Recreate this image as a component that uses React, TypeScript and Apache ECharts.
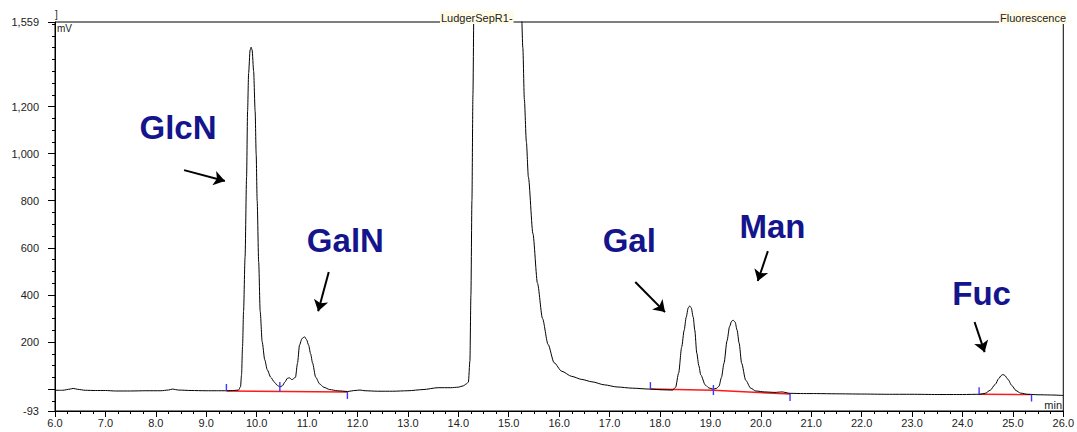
import React, { useEffect, useRef } from "react";
import * as echarts from "echarts";

// ---- Data (time in min, signal in mV) ----
const baselineStart: [number, number][] = [
  [6.0, -5], [6.15, -5], [6.3, 0], [6.36, 3], [6.45, -1], [6.6, -5], [6.8, -6], [7.0, -6],
  [7.2, -8], [7.5, -8], [7.8, -7], [8.1, -7], [8.25, -4], [8.33, 0], [8.45, -4], [8.7, -6],
  [9.0, -7], [9.2, -7], [9.4, -7], [9.55, -6], [9.64, -4],
];
const peakGlcNGalN: [number, number][] = [
  [9.68, 10], [9.7, 60], [9.72, 180], [9.74, 330], [9.77, 560], [9.8, 900], [9.82, 1180],
  [9.84, 1340], [9.87, 1440], [9.89, 1452], [9.91, 1440], [9.94, 1350], [9.97, 1180],
  [9.99, 1000], [10.01, 800], [10.04, 540], [10.07, 330], [10.11, 200], [10.16, 125],
  [10.21, 82], [10.28, 50], [10.35, 30], [10.41, 16], [10.46, 9], [10.51, 14], [10.56, 30],
  [10.61, 46], [10.65, 48], [10.7, 40], [10.77, 50], [10.81, 110], [10.85, 187], [10.9, 215],
  [10.95, 222], [10.99, 210], [11.03, 187], [11.07, 150], [11.11, 110], [11.17, 51], [11.25, 22],
  [11.33, 8], [11.45, -2], [11.6, -7], [11.8, -10],
];
const baselineMid: [number, number][] = [
  [11.95, -6], [12.05, -4], [12.15, -7], [12.4, -9], [12.7, -9], [13.0, -7], [13.3, -2],
  [13.6, 6], [13.85, 6], [14.0, 8], [14.1, 14], [14.16, 22],
];
const peakSolvent: [number, number][] = [
  [14.2, 30], [14.23, 120], [14.25, 400], [14.27, 800], [14.29, 1250], [14.31, 1650],
  [14.36, 1900], [14.7, 2100], [15.15, 1950], [15.24, 1700], [15.28, 1450], [15.31, 1230],
  [15.35, 1050], [15.39, 900], [15.48, 660], [15.57, 450], [15.67, 300], [15.78, 190],
  [15.9, 112], [16.05, 76], [16.25, 54], [16.45, 41], [16.65, 31], [16.9, 18], [17.15, 9],
  [17.45, 4], [17.8, 0], [18.05, -3], [18.25, -4],
];
const peakGalMan: [number, number][] = [
  [18.31, 8], [18.37, 68], [18.43, 178], [18.48, 250], [18.52, 305], [18.56, 345], [18.59, 353],
  [18.62, 345], [18.66, 305], [18.69, 251], [18.73, 153], [18.77, 100], [18.81, 60], [18.9, 17],
  [18.97, 5], [19.05, 0], [19.12, 3], [19.17, 12], [19.22, 50], [19.27, 110], [19.33, 205],
  [19.38, 265], [19.42, 288], [19.45, 293], [19.49, 285], [19.53, 250], [19.57, 195],
  [19.62, 110], [19.7, 38], [19.8, 4], [19.9, -8], [20.08, -12], [20.28, -14], [20.42, -12],
  [20.58, -18], [20.85, -19],
];
const baselineLate: [number, number][] = [
  [21.1, -19], [21.5, -20], [22.0, -21], [22.5, -22], [23.0, -22], [23.5, -23], [24.0, -23],
  [24.35, -22],
];
const peakFuc: [number, number][] = [
  [24.45, -18], [24.55, -5], [24.65, 20], [24.72, 45], [24.77, 58], [24.8, 62], [24.84, 58],
  [24.9, 42], [24.98, 15], [25.06, -6], [25.15, -17], [25.3, -22], [25.5, -24], [25.75, -25],
  [26.0, -27],
];

// integration baselines (red) and delimiter marks (blue)
const baseGlcN: [number, number][] = [[9.4, -8], [11.8, -12]];
const baseGalMan: [number, number][] = [[17.81, 0], [19.06, -5], [20.58, -21]];
const baseFuc: [number, number][] = [[24.33, -22], [25.37, -23]];
const delimTimes = [9.4, 10.46, 11.8, 17.81, 19.06, 20.58, 24.33, 25.37];
const delimValues = [-8, 9, -12, 0, -4, -21, -22, -23];
const delimKinds = ["up", "mid", "down", "up", "mid", "down", "up", "down"];

// peak annotations
const peakNames = ["GlcN", "GalN", "Gal", "Man", "Fuc"];
const labelPos: [number, number][] = [[8.44, 1109], [11.76, 629], [17.39, 629], [20.23, 692], [24.38, 408]];
const arrowFrom: [number, number][] = [[8.56, 930], [11.43, 497], [17.51, 455], [20.14, 586], [24.24, 285]];
const arrowTo: [number, number][] = [[9.37, 884], [11.22, 331], [18.1, 327], [19.94, 459], [24.44, 157]];

// axes
const yMin = -93;
const yMax = 1559;
const yLabelValues = [-93, 200, 400, 600, 800, 1000, 1200, 1559];
const yMajorTicks = [-93, 0, 200, 400, 600, 800, 1000, 1200, 1559];
const yMinorTicks = [-50, 50, 100, 150, 250, 300, 350, 450, 500, 550, 650, 700, 750, 850, 900, 950,
  1050, 1100, 1150, 1250, 1300, 1350, 1400, 1450, 1500, 1550];

const FONT = "'Liberation Sans', Arial, sans-serif";

export default function App() {
  const ref = useRef<HTMLDivElement>(null);
  useEffect(() => {
    if (!ref.current) return;
    const chart = echarts.init(ref.current, undefined, { renderer: "svg" });
    const trace = [
      ...baselineStart, ...peakGlcNGalN, ...baselineMid, ...peakSolvent,
      ...peakGalMan, ...baselineLate, ...peakFuc,
    ];
    const offsets: Record<string, number> = { up: -3.5, mid: 0, down: 3.5 };
    const fmt = (v: number) => v.toLocaleString("en-US");
    const option: any = {
      animation: false,
      textStyle: { fontFamily: FONT },
      grid: {
        left: 55, right: 6, top: 22, bottom: 21,
        show: true, borderColor: "#000", borderWidth: 1, backgroundColor: "transparent",
      },
      xAxis: {
        type: "value", min: 6, max: 26, interval: 1,
        axisLine: { onZero: false, lineStyle: { color: "#000", width: 1 } },
        axisTick: { length: 6, lineStyle: { color: "#000" } },
        minorTick: { show: true, splitNumber: 4, length: 3, lineStyle: { color: "#000" } },
        splitLine: { show: false },
        axisLabel: {
          margin: 6, color: "#222", fontSize: 11, fontFamily: FONT,
          formatter: (v: number) => v.toFixed(1),
        },
      },
      yAxis: [
        {
          type: "value", min: yMin, max: yMax, position: "left",
          axisLine: { show: true, onZero: false, lineStyle: { color: "#000", width: 1 } },
          axisTick: { show: true, length: 7, customValues: yMajorTicks, lineStyle: { color: "#000" } },
          splitLine: { show: false },
          axisLabel: {
            customValues: yLabelValues, margin: 16, color: "#222", fontSize: 11, fontFamily: FONT,
            formatter: (v: number) => fmt(v),
          },
        },
        {
          type: "value", min: yMin, max: yMax, position: "left", offset: 0,
          axisLine: { show: false },
          axisTick: { show: true, length: 3, customValues: yMinorTicks, lineStyle: { color: "#000" } },
          splitLine: { show: false },
          axisLabel: { show: false },
        },
      ],
      series: [
        {
          type: "line", data: trace, showSymbol: false, symbol: "none", clip: true,
          smooth: 0.25, smoothMonotone: "x",
          lineStyle: { color: "#000", width: 1 }, z: 3,
        },
        ...[baseGlcN, baseGalMan, baseFuc].map((b) => ({
          type: "line", data: b, symbol: "none", showSymbol: false,
          lineStyle: { color: "#ff1a1a", width: 1.5 }, z: 2,
        })),
        {
          type: "scatter", symbol: "rect",
          data: delimTimes.map((t, i) => ({
            value: [t, delimValues[i]],
            symbolOffset: [0, offsets[delimKinds[i]]],
            symbolSize: delimKinds[i] === "mid" ? [1.4, 10] : [1.4, 7],
          })),
          itemStyle: { color: "#3a3aff", opacity: 1 }, z: 4,
        },
        {
          type: "lines", coordinateSystem: "cartesian2d", polyline: false,
          symbol: ["none", "arrow"], symbolSize: [0, 11],
          lineStyle: { color: "#000", width: 2, opacity: 1, curveness: 0 },
          data: arrowFrom.map((f, i) => ({ coords: [f, arrowTo[i]] })),
          z: 5,
        },
        {
          type: "scatter", symbolSize: 0,
          data: labelPos.map((p, i) => ({ value: [p[0], p[1]], name: peakNames[i] })),
          itemStyle: { opacity: 1 },
          label: {
            show: true, position: "inside", opacity: 1,
            formatter: (p: any) => p.name,
            fontSize: 33, fontWeight: "bold", color: "#14148c", fontFamily: FONT,
          },
          emphasis: { disabled: true },
          z: 6,
        },
      ],
      graphic: [
        {
          type: "text", left: 440, top: 11, z: 100,
          style: {
            text: "LudgerSepR1-", fontSize: 11, fontFamily: FONT, fill: "#222",
            backgroundColor: "#fffbe6", padding: [1, 1, 1, 1],
          },
        },
        {
          type: "text", left: 999, top: 11, z: 100,
          style: {
            text: "Fluorescence", fontSize: 11, fontFamily: FONT, fill: "#222",
            backgroundColor: "#fffbe6", padding: [1, 1, 1, 1],
          },
        },
        { type: "text", left: 57, top: 23, z: 100, style: { text: "mV", fontSize: 10, fontFamily: FONT, fill: "#222" } },
        { type: "text", left: 55, top: 9, z: 100, style: { text: "]", fontSize: 10, fontFamily: FONT, fill: "#222" } },
        { type: "text", right: 15, top: 399, z: 100, style: { text: "min", fontSize: 11, fontFamily: FONT, fill: "#222" } },
      ],
    };
    chart.setOption(option);
    return () => chart.dispose();
  }, []);
  return (
    <div
      ref={ref}
      style={{ position: "absolute", left: 0, top: 0, width: 1077, height: 432, background: "#fff" }}
    />
  );
}
